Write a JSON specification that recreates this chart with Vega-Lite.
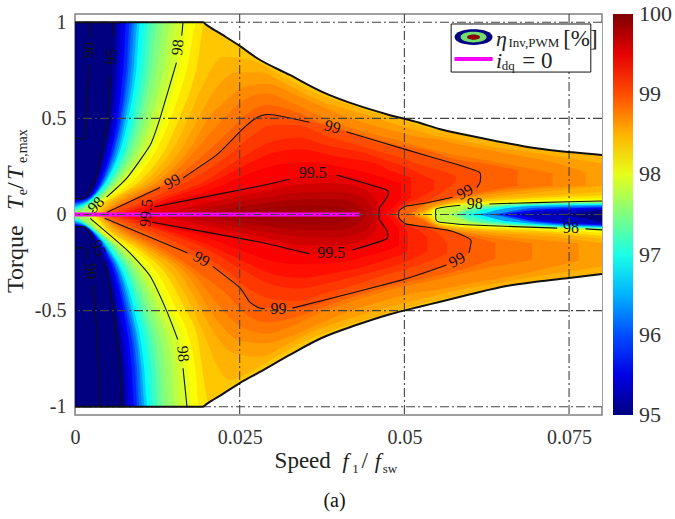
{"$schema":"https://vega.github.io/schema/vega-lite/v6.json","width":527,"height":401,"autosize":{"type":"none"},"padding":{"left":75,"top":14,"right":73,"bottom":104},"background":"white","config":{"view":{"stroke":"#808080","strokeWidth":1.5}},
"layer":[
{"data":{"values":[
{"k":"B","v":95,"x":0,"y":1,"z":-1},{"k":"B","v":95,"x":0.08,"y":1,"z":-1},
{"k":"t95.15","v":95.15,"x":0,"y":0.083,"z":0},{"k":"t95.15","v":95.15,"x":0.0017,"y":0.09,"z":0},{"k":"t95.15","v":95.15,"x":0.0034,"y":0.2,"z":0},{"k":"t95.15","v":95.15,"x":0.0045,"y":0.36,"z":0},{"k":"t95.15","v":95.15,"x":0.0053,"y":0.5,"z":0},{"k":"t95.15","v":95.15,"x":0.0058,"y":0.79,"z":0},{"k":"t95.15","v":95.15,"x":0.0062,"y":1,"z":0},{"k":"t95.15","v":95.15,"x":0.0175,"y":1,"z":0},
{"k":"b95.15","v":95.15,"x":0,"y":-0.063,"z":0},{"k":"b95.15","v":95.15,"x":0.0015,"y":-0.07,"z":0},{"k":"b95.15","v":95.15,"x":0.0037,"y":-0.185,"z":0},{"k":"b95.15","v":95.15,"x":0.0052,"y":-0.325,"z":0},{"k":"b95.15","v":95.15,"x":0.0061,"y":-0.5,"z":0},{"k":"b95.15","v":95.15,"x":0.0071,"y":-0.8,"z":0},{"k":"b95.15","v":95.15,"x":0.0075,"y":-1,"z":0},{"k":"b95.15","v":95.15,"x":0.0178,"y":-1,"z":0},
{"k":"t95.3","v":95.3,"x":0,"y":0.08,"z":0},{"k":"t95.3","v":95.3,"x":0.0018,"y":0.09,"z":0},{"k":"t95.3","v":95.3,"x":0.0036,"y":0.2,"z":0},{"k":"t95.3","v":95.3,"x":0.0048,"y":0.36,"z":0},{"k":"t95.3","v":95.3,"x":0.0056,"y":0.5,"z":0},{"k":"t95.3","v":95.3,"x":0.0062,"y":0.79,"z":0},{"k":"t95.3","v":95.3,"x":0.0065,"y":1,"z":0},{"k":"t95.3","v":95.3,"x":0.0175,"y":1,"z":0},
{"k":"b95.3","v":95.3,"x":0,"y":-0.06,"z":0},{"k":"b95.3","v":95.3,"x":0.0016,"y":-0.07,"z":0},{"k":"b95.3","v":95.3,"x":0.0039,"y":-0.185,"z":0},{"k":"b95.3","v":95.3,"x":0.0054,"y":-0.325,"z":0},{"k":"b95.3","v":95.3,"x":0.0064,"y":-0.5,"z":0},{"k":"b95.3","v":95.3,"x":0.0075,"y":-0.8,"z":0},{"k":"b95.3","v":95.3,"x":0.0078,"y":-1,"z":0},{"k":"b95.3","v":95.3,"x":0.0178,"y":-1,"z":0},
{"k":"rt95.3","v":95.3,"x":0.054,"y":0.12,"z":0},{"k":"rt95.3","v":95.3,"x":0.072,"y":0.12,"z":0},{"k":"rt95.3","v":95.3,"x":0.08,"y":0.12,"z":0.023},
{"k":"rb95.3","v":95.3,"x":0.054,"y":-0.12,"z":0},{"k":"rb95.3","v":95.3,"x":0.072,"y":-0.12,"z":0},{"k":"rb95.3","v":95.3,"x":0.08,"y":-0.12,"z":-0.04},
{"k":"t95.45","v":95.45,"x":0,"y":0.075,"z":0},{"k":"t95.45","v":95.45,"x":0.002,"y":0.09,"z":0},{"k":"t95.45","v":95.45,"x":0.0038,"y":0.2,"z":0},{"k":"t95.45","v":95.45,"x":0.0051,"y":0.36,"z":0},{"k":"t95.45","v":95.45,"x":0.0059,"y":0.5,"z":0},{"k":"t95.45","v":95.45,"x":0.0066,"y":0.79,"z":0},{"k":"t95.45","v":95.45,"x":0.007,"y":1,"z":0},{"k":"t95.45","v":95.45,"x":0.0175,"y":1,"z":0},
{"k":"b95.45","v":95.45,"x":0,"y":-0.058,"z":0},{"k":"b95.45","v":95.45,"x":0.0017,"y":-0.07,"z":0},{"k":"b95.45","v":95.45,"x":0.0041,"y":-0.185,"z":0},{"k":"b95.45","v":95.45,"x":0.0057,"y":-0.325,"z":0},{"k":"b95.45","v":95.45,"x":0.0067,"y":-0.5,"z":0},{"k":"b95.45","v":95.45,"x":0.0078,"y":-0.8,"z":0},{"k":"b95.45","v":95.45,"x":0.0082,"y":-1,"z":0},{"k":"b95.45","v":95.45,"x":0.0178,"y":-1,"z":0},
{"k":"t95.6","v":95.6,"x":0,"y":0.07,"z":0},{"k":"t95.6","v":95.6,"x":0.0021,"y":0.09,"z":0},{"k":"t95.6","v":95.6,"x":0.004,"y":0.2,"z":0},{"k":"t95.6","v":95.6,"x":0.0054,"y":0.36,"z":0},{"k":"t95.6","v":95.6,"x":0.0062,"y":0.5,"z":0},{"k":"t95.6","v":95.6,"x":0.007,"y":0.79,"z":0},{"k":"t95.6","v":95.6,"x":0.0074,"y":1,"z":0},{"k":"t95.6","v":95.6,"x":0.0175,"y":1,"z":0},
{"k":"b95.6","v":95.6,"x":0,"y":-0.055,"z":0},{"k":"b95.6","v":95.6,"x":0.0018,"y":-0.07,"z":0},{"k":"b95.6","v":95.6,"x":0.0042,"y":-0.185,"z":0},{"k":"b95.6","v":95.6,"x":0.006,"y":-0.325,"z":0},{"k":"b95.6","v":95.6,"x":0.007,"y":-0.5,"z":0},{"k":"b95.6","v":95.6,"x":0.0082,"y":-0.8,"z":0},{"k":"b95.6","v":95.6,"x":0.0086,"y":-1,"z":0},{"k":"b95.6","v":95.6,"x":0.0178,"y":-1,"z":0},
{"k":"rt95.6","v":95.6,"x":0.054,"y":0.12,"z":0},{"k":"rt95.6","v":95.6,"x":0.0665,"y":0.12,"z":0},{"k":"rt95.6","v":95.6,"x":0.07,"y":0.12,"z":0.015},{"k":"rt95.6","v":95.6,"x":0.08,"y":0.12,"z":0.03},
{"k":"rb95.6","v":95.6,"x":0.054,"y":-0.12,"z":0},{"k":"rb95.6","v":95.6,"x":0.0665,"y":-0.12,"z":0},{"k":"rb95.6","v":95.6,"x":0.07,"y":-0.12,"z":-0.025},{"k":"rb95.6","v":95.6,"x":0.08,"y":-0.12,"z":-0.05},
{"k":"t95.8","v":95.8,"x":0,"y":0.065,"z":0},{"k":"t95.8","v":95.8,"x":0.0022,"y":0.09,"z":0},{"k":"t95.8","v":95.8,"x":0.0042,"y":0.2,"z":0},{"k":"t95.8","v":95.8,"x":0.0057,"y":0.36,"z":0},{"k":"t95.8","v":95.8,"x":0.0065,"y":0.5,"z":0},{"k":"t95.8","v":95.8,"x":0.0074,"y":0.79,"z":0},{"k":"t95.8","v":95.8,"x":0.0078,"y":1,"z":0},{"k":"t95.8","v":95.8,"x":0.0175,"y":1,"z":0},
{"k":"b95.8","v":95.8,"x":0,"y":-0.052,"z":0},{"k":"b95.8","v":95.8,"x":0.0019,"y":-0.07,"z":0},{"k":"b95.8","v":95.8,"x":0.0044,"y":-0.185,"z":0},{"k":"b95.8","v":95.8,"x":0.0062,"y":-0.325,"z":0},{"k":"b95.8","v":95.8,"x":0.0074,"y":-0.5,"z":0},{"k":"b95.8","v":95.8,"x":0.0086,"y":-0.8,"z":0},{"k":"b95.8","v":95.8,"x":0.009,"y":-1,"z":0},{"k":"b95.8","v":95.8,"x":0.0178,"y":-1,"z":0},
{"k":"t96","v":96,"x":0,"y":0.06,"z":0},{"k":"t96","v":96,"x":0.0024,"y":0.09,"z":0},{"k":"t96","v":96,"x":0.0045,"y":0.2,"z":0},{"k":"t96","v":96,"x":0.006,"y":0.36,"z":0},{"k":"t96","v":96,"x":0.0069,"y":0.5,"z":0},{"k":"t96","v":96,"x":0.0079,"y":0.79,"z":0},{"k":"t96","v":96,"x":0.0083,"y":1,"z":0},{"k":"t96","v":96,"x":0.0175,"y":1,"z":0},
{"k":"b96","v":96,"x":0,"y":-0.05,"z":0},{"k":"b96","v":96,"x":0.002,"y":-0.07,"z":0},{"k":"b96","v":96,"x":0.0046,"y":-0.185,"z":0},{"k":"b96","v":96,"x":0.0065,"y":-0.325,"z":0},{"k":"b96","v":96,"x":0.0077,"y":-0.5,"z":0},{"k":"b96","v":96,"x":0.0091,"y":-0.8,"z":0},{"k":"b96","v":96,"x":0.0095,"y":-1,"z":0},{"k":"b96","v":96,"x":0.0178,"y":-1,"z":0},
{"k":"rt96","v":96,"x":0.054,"y":0.12,"z":0},{"k":"rt96","v":96,"x":0.0635,"y":0.12,"z":0},{"k":"rt96","v":96,"x":0.07,"y":0.12,"z":0.025},{"k":"rt96","v":96,"x":0.08,"y":0.12,"z":0.037},
{"k":"rb96","v":96,"x":0.054,"y":-0.12,"z":0},{"k":"rb96","v":96,"x":0.0635,"y":-0.12,"z":0},{"k":"rb96","v":96,"x":0.07,"y":-0.12,"z":-0.035},{"k":"rb96","v":96,"x":0.08,"y":-0.12,"z":-0.055},
{"k":"t96.2","v":96.2,"x":0,"y":0.055,"z":0},{"k":"t96.2","v":96.2,"x":0.0025,"y":0.09,"z":0},{"k":"t96.2","v":96.2,"x":0.0046,"y":0.2,"z":0},{"k":"t96.2","v":96.2,"x":0.0062,"y":0.36,"z":0},{"k":"t96.2","v":96.2,"x":0.0071,"y":0.5,"z":0},{"k":"t96.2","v":96.2,"x":0.0082,"y":0.79,"z":0},{"k":"t96.2","v":96.2,"x":0.0087,"y":1,"z":0},{"k":"t96.2","v":96.2,"x":0.0175,"y":1,"z":0},
{"k":"b96.2","v":96.2,"x":0,"y":-0.045,"z":0},{"k":"b96.2","v":96.2,"x":0.002,"y":-0.07,"z":0},{"k":"b96.2","v":96.2,"x":0.0047,"y":-0.185,"z":0},{"k":"b96.2","v":96.2,"x":0.0067,"y":-0.325,"z":0},{"k":"b96.2","v":96.2,"x":0.008,"y":-0.5,"z":0},{"k":"b96.2","v":96.2,"x":0.0094,"y":-0.8,"z":0},{"k":"b96.2","v":96.2,"x":0.0098,"y":-1,"z":0},{"k":"b96.2","v":96.2,"x":0.0178,"y":-1,"z":0},
{"k":"t96.4","v":96.4,"x":0,"y":0.05,"z":0},{"k":"t96.4","v":96.4,"x":0.0026,"y":0.09,"z":0},{"k":"t96.4","v":96.4,"x":0.0048,"y":0.2,"z":0},{"k":"t96.4","v":96.4,"x":0.0065,"y":0.36,"z":0},{"k":"t96.4","v":96.4,"x":0.0074,"y":0.5,"z":0},{"k":"t96.4","v":96.4,"x":0.0086,"y":0.79,"z":0},{"k":"t96.4","v":96.4,"x":0.0091,"y":1,"z":0},{"k":"t96.4","v":96.4,"x":0.0175,"y":1,"z":0},
{"k":"b96.4","v":96.4,"x":0,"y":-0.04,"z":0},{"k":"b96.4","v":96.4,"x":0.0021,"y":-0.07,"z":0},{"k":"b96.4","v":96.4,"x":0.0049,"y":-0.185,"z":0},{"k":"b96.4","v":96.4,"x":0.007,"y":-0.325,"z":0},{"k":"b96.4","v":96.4,"x":0.0083,"y":-0.5,"z":0},{"k":"b96.4","v":96.4,"x":0.0098,"y":-0.8,"z":0},{"k":"b96.4","v":96.4,"x":0.0102,"y":-1,"z":0},{"k":"b96.4","v":96.4,"x":0.0178,"y":-1,"z":0},
{"k":"rt96.4","v":96.4,"x":0.054,"y":0.12,"z":0},{"k":"rt96.4","v":96.4,"x":0.062,"y":0.12,"z":0},{"k":"rt96.4","v":96.4,"x":0.07,"y":0.12,"z":0.035},{"k":"rt96.4","v":96.4,"x":0.08,"y":0.12,"z":0.043},
{"k":"rb96.4","v":96.4,"x":0.054,"y":-0.12,"z":0},{"k":"rb96.4","v":96.4,"x":0.062,"y":-0.12,"z":0},{"k":"rb96.4","v":96.4,"x":0.07,"y":-0.12,"z":-0.042},{"k":"rb96.4","v":96.4,"x":0.08,"y":-0.12,"z":-0.06},
{"k":"t96.65","v":96.65,"x":0,"y":0.043,"z":0},{"k":"t96.65","v":96.65,"x":0.0027,"y":0.09,"z":0},{"k":"t96.65","v":96.65,"x":0.005,"y":0.2,"z":0},{"k":"t96.65","v":96.65,"x":0.0068,"y":0.36,"z":0},{"k":"t96.65","v":96.65,"x":0.0077,"y":0.5,"z":0},{"k":"t96.65","v":96.65,"x":0.009,"y":0.79,"z":0},{"k":"t96.65","v":96.65,"x":0.0095,"y":1,"z":0},{"k":"t96.65","v":96.65,"x":0.0175,"y":1,"z":0},
{"k":"b96.65","v":96.65,"x":0,"y":-0.035,"z":0},{"k":"b96.65","v":96.65,"x":0.0022,"y":-0.07,"z":0},{"k":"b96.65","v":96.65,"x":0.0051,"y":-0.185,"z":0},{"k":"b96.65","v":96.65,"x":0.0072,"y":-0.325,"z":0},{"k":"b96.65","v":96.65,"x":0.0086,"y":-0.5,"z":0},{"k":"b96.65","v":96.65,"x":0.0101,"y":-0.8,"z":0},{"k":"b96.65","v":96.65,"x":0.0106,"y":-1,"z":0},{"k":"b96.65","v":96.65,"x":0.0178,"y":-1,"z":0},
{"k":"t96.9","v":96.9,"x":0,"y":0.035,"z":0},{"k":"t96.9","v":96.9,"x":0.0028,"y":0.09,"z":0},{"k":"t96.9","v":96.9,"x":0.0052,"y":0.2,"z":0},{"k":"t96.9","v":96.9,"x":0.0071,"y":0.36,"z":0},{"k":"t96.9","v":96.9,"x":0.0081,"y":0.5,"z":0},{"k":"t96.9","v":96.9,"x":0.0094,"y":0.79,"z":0},{"k":"t96.9","v":96.9,"x":0.0099,"y":1,"z":0},{"k":"t96.9","v":96.9,"x":0.0175,"y":1,"z":0},
{"k":"b96.9","v":96.9,"x":0,"y":-0.03,"z":0},{"k":"b96.9","v":96.9,"x":0.0023,"y":-0.07,"z":0},{"k":"b96.9","v":96.9,"x":0.0053,"y":-0.185,"z":0},{"k":"b96.9","v":96.9,"x":0.0075,"y":-0.325,"z":0},{"k":"b96.9","v":96.9,"x":0.009,"y":-0.5,"z":0},{"k":"b96.9","v":96.9,"x":0.0105,"y":-0.8,"z":0},{"k":"b96.9","v":96.9,"x":0.011,"y":-1,"z":0},{"k":"b96.9","v":96.9,"x":0.0178,"y":-1,"z":0},
{"k":"rt96.9","v":96.9,"x":0.054,"y":0.12,"z":0},{"k":"rt96.9","v":96.9,"x":0.0605,"y":0.12,"z":0},{"k":"rt96.9","v":96.9,"x":0.065,"y":0.12,"z":0.03},{"k":"rt96.9","v":96.9,"x":0.07,"y":0.12,"z":0.045},{"k":"rt96.9","v":96.9,"x":0.08,"y":0.12,"z":0.05},
{"k":"rb96.9","v":96.9,"x":0.054,"y":-0.12,"z":0},{"k":"rb96.9","v":96.9,"x":0.0605,"y":-0.12,"z":0},{"k":"rb96.9","v":96.9,"x":0.065,"y":-0.12,"z":-0.032},{"k":"rb96.9","v":96.9,"x":0.07,"y":-0.12,"z":-0.05},{"k":"rb96.9","v":96.9,"x":0.08,"y":-0.12,"z":-0.065},
{"k":"t97.05","v":97.05,"x":0,"y":0.03,"z":0},{"k":"t97.05","v":97.05,"x":0.003,"y":0.09,"z":0},{"k":"t97.05","v":97.05,"x":0.0055,"y":0.2,"z":0},{"k":"t97.05","v":97.05,"x":0.0075,"y":0.36,"z":0},{"k":"t97.05","v":97.05,"x":0.0085,"y":0.5,"z":0},{"k":"t97.05","v":97.05,"x":0.0099,"y":0.79,"z":0},{"k":"t97.05","v":97.05,"x":0.0105,"y":1,"z":0},{"k":"t97.05","v":97.05,"x":0.0175,"y":1,"z":0},
{"k":"b97.05","v":97.05,"x":0,"y":-0.025,"z":0},{"k":"b97.05","v":97.05,"x":0.0024,"y":-0.07,"z":0},{"k":"b97.05","v":97.05,"x":0.0055,"y":-0.185,"z":0},{"k":"b97.05","v":97.05,"x":0.0078,"y":-0.325,"z":0},{"k":"b97.05","v":97.05,"x":0.0094,"y":-0.5,"z":0},{"k":"b97.05","v":97.05,"x":0.011,"y":-0.8,"z":0},{"k":"b97.05","v":97.05,"x":0.0115,"y":-1,"z":0},{"k":"b97.05","v":97.05,"x":0.0178,"y":-1,"z":0},
{"k":"t97.2","v":97.2,"x":0,"y":0.025,"z":0},{"k":"t97.2","v":97.2,"x":0.0032,"y":0.09,"z":0},{"k":"t97.2","v":97.2,"x":0.0058,"y":0.2,"z":0},{"k":"t97.2","v":97.2,"x":0.0079,"y":0.36,"z":0},{"k":"t97.2","v":97.2,"x":0.009,"y":0.5,"z":0},{"k":"t97.2","v":97.2,"x":0.0105,"y":0.79,"z":0},{"k":"t97.2","v":97.2,"x":0.0111,"y":1,"z":0},{"k":"t97.2","v":97.2,"x":0.0175,"y":1,"z":0},
{"k":"b97.2","v":97.2,"x":0,"y":-0.02,"z":0},{"k":"b97.2","v":97.2,"x":0.0025,"y":-0.07,"z":0},{"k":"b97.2","v":97.2,"x":0.0058,"y":-0.185,"z":0},{"k":"b97.2","v":97.2,"x":0.0082,"y":-0.325,"z":0},{"k":"b97.2","v":97.2,"x":0.0098,"y":-0.5,"z":0},{"k":"b97.2","v":97.2,"x":0.0116,"y":-0.8,"z":0},{"k":"b97.2","v":97.2,"x":0.012,"y":-1,"z":0},{"k":"b97.2","v":97.2,"x":0.0178,"y":-1,"z":0},
{"k":"rt97.2","v":97.2,"x":0.054,"y":0.12,"z":0},{"k":"rt97.2","v":97.2,"x":0.0592,"y":0.12,"z":0},{"k":"rt97.2","v":97.2,"x":0.0625,"y":0.12,"z":0.028},{"k":"rt97.2","v":97.2,"x":0.07,"y":0.12,"z":0.05},{"k":"rt97.2","v":97.2,"x":0.08,"y":0.12,"z":0.055},
{"k":"rb97.2","v":97.2,"x":0.054,"y":-0.12,"z":0},{"k":"rb97.2","v":97.2,"x":0.0592,"y":-0.12,"z":0},{"k":"rb97.2","v":97.2,"x":0.0625,"y":-0.12,"z":-0.03},{"k":"rb97.2","v":97.2,"x":0.07,"y":-0.12,"z":-0.055},{"k":"rb97.2","v":97.2,"x":0.08,"y":-0.12,"z":-0.068},
{"k":"t97.35","v":97.35,"x":0,"y":0.02,"z":0},{"k":"t97.35","v":97.35,"x":0.0034,"y":0.09,"z":0},{"k":"t97.35","v":97.35,"x":0.0061,"y":0.2,"z":0},{"k":"t97.35","v":97.35,"x":0.0083,"y":0.36,"z":0},{"k":"t97.35","v":97.35,"x":0.0095,"y":0.5,"z":0},{"k":"t97.35","v":97.35,"x":0.0111,"y":0.79,"z":0},{"k":"t97.35","v":97.35,"x":0.0118,"y":1,"z":0},{"k":"t97.35","v":97.35,"x":0.0175,"y":1,"z":0},
{"k":"b97.35","v":97.35,"x":0,"y":-0.016,"z":0},{"k":"b97.35","v":97.35,"x":0.0026,"y":-0.07,"z":0},{"k":"b97.35","v":97.35,"x":0.006,"y":-0.185,"z":0},{"k":"b97.35","v":97.35,"x":0.0086,"y":-0.325,"z":0},{"k":"b97.35","v":97.35,"x":0.0103,"y":-0.5,"z":0},{"k":"b97.35","v":97.35,"x":0.0122,"y":-0.8,"z":0},{"k":"b97.35","v":97.35,"x":0.0126,"y":-1,"z":0},{"k":"b97.35","v":97.35,"x":0.0178,"y":-1,"z":0},
{"k":"t97.5","v":97.5,"x":0,"y":0.015,"z":0},{"k":"t97.5","v":97.5,"x":0.0036,"y":0.09,"z":0},{"k":"t97.5","v":97.5,"x":0.0064,"y":0.2,"z":0},{"k":"t97.5","v":97.5,"x":0.0088,"y":0.36,"z":0},{"k":"t97.5","v":97.5,"x":0.01,"y":0.5,"z":0},{"k":"t97.5","v":97.5,"x":0.0117,"y":0.79,"z":0},{"k":"t97.5","v":97.5,"x":0.0125,"y":1,"z":0},{"k":"t97.5","v":97.5,"x":0.0175,"y":1,"z":0},
{"k":"b97.5","v":97.5,"x":0,"y":-0.012,"z":0},{"k":"b97.5","v":97.5,"x":0.0028,"y":-0.07,"z":0},{"k":"b97.5","v":97.5,"x":0.0063,"y":-0.185,"z":0},{"k":"b97.5","v":97.5,"x":0.009,"y":-0.325,"z":0},{"k":"b97.5","v":97.5,"x":0.0109,"y":-0.5,"z":0},{"k":"b97.5","v":97.5,"x":0.0128,"y":-0.8,"z":0},{"k":"b97.5","v":97.5,"x":0.0133,"y":-1,"z":0},{"k":"b97.5","v":97.5,"x":0.0178,"y":-1,"z":0},
{"k":"rt97.5","v":97.5,"x":0.054,"y":0.12,"z":0},{"k":"rt97.5","v":97.5,"x":0.058,"y":0.12,"z":0},{"k":"rt97.5","v":97.5,"x":0.06,"y":0.12,"z":0.025},{"k":"rt97.5","v":97.5,"x":0.07,"y":0.12,"z":0.055},{"k":"rt97.5","v":97.5,"x":0.08,"y":0.12,"z":0.06},
{"k":"rb97.5","v":97.5,"x":0.054,"y":-0.12,"z":0},{"k":"rb97.5","v":97.5,"x":0.058,"y":-0.12,"z":0},{"k":"rb97.5","v":97.5,"x":0.06,"y":-0.12,"z":-0.03},{"k":"rb97.5","v":97.5,"x":0.07,"y":-0.12,"z":-0.06},{"k":"rb97.5","v":97.5,"x":0.08,"y":-0.12,"z":-0.072},
{"k":"t97.65","v":97.65,"x":0,"y":0.008,"z":0},{"k":"t97.65","v":97.65,"x":0.0039,"y":0.09,"z":0},{"k":"t97.65","v":97.65,"x":0.0068,"y":0.2,"z":0},{"k":"t97.65","v":97.65,"x":0.0094,"y":0.36,"z":0},{"k":"t97.65","v":97.65,"x":0.0107,"y":0.5,"z":0},{"k":"t97.65","v":97.65,"x":0.0126,"y":0.79,"z":0},{"k":"t97.65","v":97.65,"x":0.0135,"y":1,"z":0},{"k":"t97.65","v":97.65,"x":0.0175,"y":1,"z":0},
{"k":"b97.65","v":97.65,"x":0,"y":-0.006,"z":0},{"k":"b97.65","v":97.65,"x":0.0029,"y":-0.07,"z":0},{"k":"b97.65","v":97.65,"x":0.0067,"y":-0.185,"z":0},{"k":"b97.65","v":97.65,"x":0.0096,"y":-0.325,"z":0},{"k":"b97.65","v":97.65,"x":0.0116,"y":-0.5,"z":0},{"k":"b97.65","v":97.65,"x":0.0137,"y":-0.8,"z":0},{"k":"b97.65","v":97.65,"x":0.0142,"y":-1,"z":0},{"k":"b97.65","v":97.65,"x":0.0178,"y":-1,"z":0},
{"k":"t97.8","v":97.8,"x":0.0015,"y":0,"z":0},{"k":"t97.8","v":97.8,"x":0.0042,"y":0.09,"z":0},{"k":"t97.8","v":97.8,"x":0.0073,"y":0.2,"z":0},{"k":"t97.8","v":97.8,"x":0.0101,"y":0.36,"z":0},{"k":"t97.8","v":97.8,"x":0.0115,"y":0.5,"z":0},{"k":"t97.8","v":97.8,"x":0.0136,"y":0.79,"z":0},{"k":"t97.8","v":97.8,"x":0.0145,"y":1,"z":0},{"k":"t97.8","v":97.8,"x":0.0175,"y":1,"z":0},
{"k":"b97.8","v":97.8,"x":0.0015,"y":0,"z":0},{"k":"b97.8","v":97.8,"x":0.0031,"y":-0.07,"z":0},{"k":"b97.8","v":97.8,"x":0.0071,"y":-0.185,"z":0},{"k":"b97.8","v":97.8,"x":0.0102,"y":-0.325,"z":0},{"k":"b97.8","v":97.8,"x":0.0124,"y":-0.5,"z":0},{"k":"b97.8","v":97.8,"x":0.0147,"y":-0.8,"z":0},{"k":"b97.8","v":97.8,"x":0.0152,"y":-1,"z":0},{"k":"b97.8","v":97.8,"x":0.0178,"y":-1,"z":0},
{"k":"rt97.8","v":97.8,"x":0.054,"y":0.12,"z":0},{"k":"rt97.8","v":97.8,"x":0.0565,"y":0.12,"z":0},{"k":"rt97.8","v":97.8,"x":0.06,"y":0.12,"z":0.035},{"k":"rt97.8","v":97.8,"x":0.07,"y":0.12,"z":0.06},{"k":"rt97.8","v":97.8,"x":0.08,"y":0.12,"z":0.065},
{"k":"rb97.8","v":97.8,"x":0.054,"y":-0.12,"z":0},{"k":"rb97.8","v":97.8,"x":0.0565,"y":-0.12,"z":0},{"k":"rb97.8","v":97.8,"x":0.06,"y":-0.12,"z":-0.04},{"k":"rb97.8","v":97.8,"x":0.07,"y":-0.12,"z":-0.064},{"k":"rb97.8","v":97.8,"x":0.08,"y":-0.12,"z":-0.076},
{"k":"t97.9","v":97.9,"x":0.002,"y":0,"z":0},{"k":"t97.9","v":97.9,"x":0.0045,"y":0.09,"z":0},{"k":"t97.9","v":97.9,"x":0.0076,"y":0.2,"z":0},{"k":"t97.9","v":97.9,"x":0.0107,"y":0.36,"z":0},{"k":"t97.9","v":97.9,"x":0.0122,"y":0.5,"z":0},{"k":"t97.9","v":97.9,"x":0.0145,"y":0.79,"z":0},{"k":"t97.9","v":97.9,"x":0.0154,"y":1,"z":0},{"k":"t97.9","v":97.9,"x":0.0175,"y":1,"z":0},
{"k":"b97.9","v":97.9,"x":0.002,"y":0,"z":0},{"k":"b97.9","v":97.9,"x":0.0033,"y":-0.07,"z":0},{"k":"b97.9","v":97.9,"x":0.0075,"y":-0.185,"z":0},{"k":"b97.9","v":97.9,"x":0.0108,"y":-0.325,"z":0},{"k":"b97.9","v":97.9,"x":0.0131,"y":-0.5,"z":0},{"k":"b97.9","v":97.9,"x":0.0155,"y":-0.8,"z":0},{"k":"b97.9","v":97.9,"x":0.0161,"y":-1,"z":0},{"k":"b97.9","v":97.9,"x":0.0178,"y":-1,"z":0},
{"k":"t98","v":98,"x":0.0026,"y":0,"z":0},{"k":"t98","v":98,"x":0.0033,"y":0.05,"z":0},{"k":"t98","v":98,"x":0.0048,"y":0.09,"z":0},{"k":"t98","v":98,"x":0.0079,"y":0.19,"z":0},{"k":"t98","v":98,"x":0.0114,"y":0.36,"z":0},{"k":"t98","v":98,"x":0.0129,"y":0.5,"z":0},{"k":"t98","v":98,"x":0.0154,"y":0.79,"z":0},{"k":"t98","v":98,"x":0.0164,"y":1,"z":0},{"k":"t98","v":98,"x":0.0547,"y":1,"z":0},{"k":"t98","v":98,"x":0.0548,"y":1,"z":0.028},{"k":"t98","v":98,"x":0.0564,"y":1,"z":0.04},{"k":"t98","v":98,"x":0.0629,"y":1,"z":0.055},{"k":"t98","v":98,"x":0.07,"y":1,"z":0.062},{"k":"t98","v":98,"x":0.08,"y":1,"z":0.07},
{"k":"b98","v":98,"x":0.0023,"y":0,"z":0},{"k":"b98","v":98,"x":0.0035,"y":-0.065,"z":0},{"k":"b98","v":98,"x":0.0079,"y":-0.185,"z":0},{"k":"b98","v":98,"x":0.0114,"y":-0.32,"z":0},{"k":"b98","v":98,"x":0.0139,"y":-0.5,"z":0},{"k":"b98","v":98,"x":0.0156,"y":-0.64,"z":0},{"k":"b98","v":98,"x":0.0164,"y":-0.81,"z":0},{"k":"b98","v":98,"x":0.017,"y":-1,"z":0},{"k":"b98","v":98,"x":0.0547,"y":-1,"z":0},{"k":"b98","v":98,"x":0.0548,"y":-1,"z":-0.028},{"k":"b98","v":98,"x":0.0553,"y":-1,"z":-0.04},{"k":"b98","v":98,"x":0.0603,"y":-1,"z":-0.055},{"k":"b98","v":98,"x":0.0724,"y":-1,"z":-0.07},{"k":"b98","v":98,"x":0.08,"y":-1,"z":-0.08},
{"k":"t98.1","v":98.1,"x":0.0028,"y":0,"z":0},{"k":"t98.1","v":98.1,"x":0.0034,"y":0.05,"z":0},{"k":"t98.1","v":98.1,"x":0.005,"y":0.09,"z":0},{"k":"t98.1","v":98.1,"x":0.0083,"y":0.19,"z":0},{"k":"t98.1","v":98.1,"x":0.012,"y":0.36,"z":0},{"k":"t98.1","v":98.1,"x":0.0135,"y":0.5,"z":0},{"k":"t98.1","v":98.1,"x":0.016,"y":0.79,"z":0},{"k":"t98.1","v":98.1,"x":0.0172,"y":1,"z":0},{"k":"t98.1","v":98.1,"x":0.0541,"y":1,"z":0},{"k":"t98.1","v":98.1,"x":0.0548,"y":1,"z":0.03},{"k":"t98.1","v":98.1,"x":0.0564,"y":1,"z":0.043},{"k":"t98.1","v":98.1,"x":0.0629,"y":1,"z":0.058},{"k":"t98.1","v":98.1,"x":0.08,"y":1,"z":0.073},
{"k":"b98.1","v":98.1,"x":0.0026,"y":0,"z":0},{"k":"b98.1","v":98.1,"x":0.0038,"y":-0.065,"z":0},{"k":"b98.1","v":98.1,"x":0.0082,"y":-0.185,"z":0},{"k":"b98.1","v":98.1,"x":0.012,"y":-0.32,"z":0},{"k":"b98.1","v":98.1,"x":0.0145,"y":-0.5,"z":0},{"k":"b98.1","v":98.1,"x":0.0163,"y":-0.64,"z":0},{"k":"b98.1","v":98.1,"x":0.0172,"y":-0.81,"z":0},{"k":"b98.1","v":98.1,"x":0.0178,"y":-1,"z":0},{"k":"b98.1","v":98.1,"x":0.0541,"y":-1,"z":0},{"k":"b98.1","v":98.1,"x":0.0553,"y":-1,"z":-0.042},{"k":"b98.1","v":98.1,"x":0.0603,"y":-1,"z":-0.058},{"k":"b98.1","v":98.1,"x":0.0724,"y":-1,"z":-0.074},{"k":"b98.1","v":98.1,"x":0.08,"y":-1,"z":-0.084},
{"k":"t98.25","v":98.25,"x":0.003,"y":0,"z":0},{"k":"t98.25","v":98.25,"x":0.0037,"y":0.05,"z":0},{"k":"t98.25","v":98.25,"x":0.0054,"y":0.09,"z":0},{"k":"t98.25","v":98.25,"x":0.0092,"y":0.19,"z":0},{"k":"t98.25","v":98.25,"x":0.0127,"y":0.36,"z":0},{"k":"t98.25","v":98.25,"x":0.0145,"y":0.5,"z":0},{"k":"t98.25","v":98.25,"x":0.0172,"y":0.79,"z":0},{"k":"t98.25","v":98.25,"x":0.0185,"y":1,"z":0},{"k":"t98.25","v":98.25,"x":0.0535,"y":1,"z":0},{"k":"t98.25","v":98.25,"x":0.0548,"y":1,"z":0.032},{"k":"t98.25","v":98.25,"x":0.0564,"y":1,"z":0.047},{"k":"t98.25","v":98.25,"x":0.0629,"y":1,"z":0.063},{"k":"t98.25","v":98.25,"x":0.08,"y":1,"z":0.085},
{"k":"b98.25","v":98.25,"x":0.0029,"y":0,"z":0},{"k":"b98.25","v":98.25,"x":0.0042,"y":-0.065,"z":0},{"k":"b98.25","v":98.25,"x":0.0089,"y":-0.185,"z":0},{"k":"b98.25","v":98.25,"x":0.0128,"y":-0.32,"z":0},{"k":"b98.25","v":98.25,"x":0.0155,"y":-0.5,"z":0},{"k":"b98.25","v":98.25,"x":0.0173,"y":-0.64,"z":0},{"k":"b98.25","v":98.25,"x":0.0183,"y":-0.81,"z":0},{"k":"b98.25","v":98.25,"x":0.0188,"y":-1,"z":0},{"k":"b98.25","v":98.25,"x":0.054,"y":-1,"z":0},{"k":"b98.25","v":98.25,"x":0.0553,"y":-1,"z":-0.045},{"k":"b98.25","v":98.25,"x":0.0603,"y":-1,"z":-0.064},{"k":"b98.25","v":98.25,"x":0.0724,"y":-1,"z":-0.08},{"k":"b98.25","v":98.25,"x":0.08,"y":-1,"z":-0.095},
{"k":"t98.4","v":98.4,"x":0.0033,"y":0,"z":0},{"k":"t98.4","v":98.4,"x":0.004,"y":0.05,"z":0},{"k":"t98.4","v":98.4,"x":0.006,"y":0.09,"z":0},{"k":"t98.4","v":98.4,"x":0.0103,"y":0.19,"z":0},{"k":"t98.4","v":98.4,"x":0.014,"y":0.36,"z":0},{"k":"t98.4","v":98.4,"x":0.0158,"y":0.5,"z":0},{"k":"t98.4","v":98.4,"x":0.0186,"y":0.79,"z":0},{"k":"t98.4","v":98.4,"x":0.0197,"y":1,"z":0},{"k":"t98.4","v":98.4,"x":0.0525,"y":1,"z":0},{"k":"t98.4","v":98.4,"x":0.0548,"y":1,"z":0.036},{"k":"t98.4","v":98.4,"x":0.0564,"y":1,"z":0.05},{"k":"t98.4","v":98.4,"x":0.0629,"y":1,"z":0.07},{"k":"t98.4","v":98.4,"x":0.08,"y":1,"z":0.1},
{"k":"b98.4","v":98.4,"x":0.0031,"y":0,"z":0},{"k":"b98.4","v":98.4,"x":0.0046,"y":-0.065,"z":0},{"k":"b98.4","v":98.4,"x":0.0098,"y":-0.185,"z":0},{"k":"b98.4","v":98.4,"x":0.014,"y":-0.32,"z":0},{"k":"b98.4","v":98.4,"x":0.0168,"y":-0.5,"z":0},{"k":"b98.4","v":98.4,"x":0.0186,"y":-0.64,"z":0},{"k":"b98.4","v":98.4,"x":0.0192,"y":-0.78,"z":0},{"k":"b98.4","v":98.4,"x":0.0205,"y":-1,"z":0},{"k":"b98.4","v":98.4,"x":0.053,"y":-1,"z":0},{"k":"b98.4","v":98.4,"x":0.0553,"y":-1,"z":-0.05},{"k":"b98.4","v":98.4,"x":0.0603,"y":-1,"z":-0.07},{"k":"b98.4","v":98.4,"x":0.0724,"y":-1,"z":-0.09},{"k":"b98.4","v":98.4,"x":0.08,"y":-1,"z":-0.11},
{"k":"t98.5","v":98.5,"x":0.0036,"y":0,"z":0},{"k":"t98.5","v":98.5,"x":0.0045,"y":0.04,"z":0},{"k":"t98.5","v":98.5,"x":0.0065,"y":0.09,"z":0},{"k":"t98.5","v":98.5,"x":0.0112,"y":0.19,"z":0},{"k":"t98.5","v":98.5,"x":0.0152,"y":0.36,"z":0},{"k":"t98.5","v":98.5,"x":0.0172,"y":0.5,"z":0},{"k":"t98.5","v":98.5,"x":0.0198,"y":0.7,"z":0},{"k":"t98.5","v":98.5,"x":0.0225,"y":0.82,"z":0},{"k":"t98.5","v":98.5,"x":0.027,"y":0.8,"z":0},{"k":"t98.5","v":98.5,"x":0.032,"y":0.71,"z":0},{"k":"t98.5","v":98.5,"x":0.036,"y":0.64,"z":0},{"k":"t98.5","v":98.5,"x":0.04,"y":0.59,"z":0},{"k":"t98.5","v":98.5,"x":0.045,"y":0.535,"z":0},{"k":"t98.5","v":98.5,"x":0.05,"y":0.485,"z":0},{"k":"t98.5","v":98.5,"x":0.052,"y":0.465,"z":0},{"k":"t98.5","v":98.5,"x":0.0548,"y":0.44,"z":0.04},{"k":"t98.5","v":98.5,"x":0.0564,"y":0.43,"z":0.054},{"k":"t98.5","v":98.5,"x":0.0629,"y":0.38,"z":0.08},{"k":"t98.5","v":98.5,"x":0.075,"y":0.32,"z":0.105},{"k":"t98.5","v":98.5,"x":0.08,"y":0.305,"z":0.12},
{"k":"b98.5","v":98.5,"x":0.0034,"y":0,"z":0},{"k":"b98.5","v":98.5,"x":0.005,"y":-0.065,"z":0},{"k":"b98.5","v":98.5,"x":0.0105,"y":-0.185,"z":0},{"k":"b98.5","v":98.5,"x":0.015,"y":-0.32,"z":0},{"k":"b98.5","v":98.5,"x":0.018,"y":-0.5,"z":0},{"k":"b98.5","v":98.5,"x":0.0198,"y":-0.64,"z":0},{"k":"b98.5","v":98.5,"x":0.0215,"y":-0.78,"z":0},{"k":"b98.5","v":98.5,"x":0.0235,"y":-0.86,"z":0},{"k":"b98.5","v":98.5,"x":0.0265,"y":-0.82,"z":0},{"k":"b98.5","v":98.5,"x":0.03,"y":-0.75,"z":0},{"k":"b98.5","v":98.5,"x":0.036,"y":-0.64,"z":0},{"k":"b98.5","v":98.5,"x":0.04,"y":-0.59,"z":0},{"k":"b98.5","v":98.5,"x":0.05,"y":-0.49,"z":0},{"k":"b98.5","v":98.5,"x":0.0525,"y":-0.465,"z":0},{"k":"b98.5","v":98.5,"x":0.0553,"y":-0.445,"z":-0.055},{"k":"b98.5","v":98.5,"x":0.0603,"y":-0.405,"z":-0.077},{"k":"b98.5","v":98.5,"x":0.0724,"y":-0.335,"z":-0.1},{"k":"b98.5","v":98.5,"x":0.08,"y":-0.305,"z":-0.125},
{"k":"t98.6","v":98.6,"x":0.0038,"y":0,"z":0},{"k":"t98.6","v":98.6,"x":0.005,"y":0.04,"z":0},{"k":"t98.6","v":98.6,"x":0.0072,"y":0.09,"z":0},{"k":"t98.6","v":98.6,"x":0.0122,"y":0.19,"z":0},{"k":"t98.6","v":98.6,"x":0.0165,"y":0.36,"z":0},{"k":"t98.6","v":98.6,"x":0.0187,"y":0.5,"z":0},{"k":"t98.6","v":98.6,"x":0.0215,"y":0.66,"z":0},{"k":"t98.6","v":98.6,"x":0.0245,"y":0.74,"z":0},{"k":"t98.6","v":98.6,"x":0.028,"y":0.74,"z":0},{"k":"t98.6","v":98.6,"x":0.032,"y":0.68,"z":0},{"k":"t98.6","v":98.6,"x":0.036,"y":0.61,"z":0},{"k":"t98.6","v":98.6,"x":0.04,"y":0.56,"z":0},{"k":"t98.6","v":98.6,"x":0.045,"y":0.51,"z":0},{"k":"t98.6","v":98.6,"x":0.05,"y":0.455,"z":0},{"k":"t98.6","v":98.6,"x":0.0515,"y":0.44,"z":0},{"k":"t98.6","v":98.6,"x":0.0548,"y":0.41,"z":0.045},{"k":"t98.6","v":98.6,"x":0.0564,"y":0.4,"z":0.06},{"k":"t98.6","v":98.6,"x":0.0629,"y":0.355,"z":0.09},{"k":"t98.6","v":98.6,"x":0.07,"y":0.32,"z":0.115},{"k":"t98.6","v":98.6,"x":0.08,"y":0.265,"z":0.15},
{"k":"b98.6","v":98.6,"x":0.0036,"y":0,"z":0},{"k":"b98.6","v":98.6,"x":0.0055,"y":-0.065,"z":0},{"k":"b98.6","v":98.6,"x":0.0113,"y":-0.185,"z":0},{"k":"b98.6","v":98.6,"x":0.0162,"y":-0.32,"z":0},{"k":"b98.6","v":98.6,"x":0.0192,"y":-0.5,"z":0},{"k":"b98.6","v":98.6,"x":0.0212,"y":-0.62,"z":0},{"k":"b98.6","v":98.6,"x":0.024,"y":-0.72,"z":0},{"k":"b98.6","v":98.6,"x":0.028,"y":-0.74,"z":0},{"k":"b98.6","v":98.6,"x":0.032,"y":-0.68,"z":0},{"k":"b98.6","v":98.6,"x":0.036,"y":-0.61,"z":0},{"k":"b98.6","v":98.6,"x":0.04,"y":-0.56,"z":0},{"k":"b98.6","v":98.6,"x":0.05,"y":-0.46,"z":0},{"k":"b98.6","v":98.6,"x":0.052,"y":-0.445,"z":0},{"k":"b98.6","v":98.6,"x":0.0553,"y":-0.415,"z":-0.06},{"k":"b98.6","v":98.6,"x":0.0603,"y":-0.38,"z":-0.085},{"k":"b98.6","v":98.6,"x":0.0724,"y":-0.31,"z":-0.115},{"k":"b98.6","v":98.6,"x":0.08,"y":-0.27,"z":-0.15},
{"k":"t98.7","v":98.7,"x":0.004,"y":0,"z":0},{"k":"t98.7","v":98.7,"x":0.0055,"y":0.04,"z":0},{"k":"t98.7","v":98.7,"x":0.008,"y":0.09,"z":0},{"k":"t98.7","v":98.7,"x":0.0132,"y":0.19,"z":0},{"k":"t98.7","v":98.7,"x":0.0178,"y":0.36,"z":0},{"k":"t98.7","v":98.7,"x":0.0202,"y":0.5,"z":0},{"k":"t98.7","v":98.7,"x":0.0225,"y":0.58,"z":0},{"k":"t98.7","v":98.7,"x":0.0255,"y":0.66,"z":0},{"k":"t98.7","v":98.7,"x":0.029,"y":0.68,"z":0},{"k":"t98.7","v":98.7,"x":0.033,"y":0.63,"z":0},{"k":"t98.7","v":98.7,"x":0.037,"y":0.57,"z":0},{"k":"t98.7","v":98.7,"x":0.042,"y":0.5,"z":0},{"k":"t98.7","v":98.7,"x":0.05,"y":0.42,"z":0},{"k":"t98.7","v":98.7,"x":0.051,"y":0.41,"z":0},{"k":"t98.7","v":98.7,"x":0.0553,"y":0.39,"z":0.06},{"k":"t98.7","v":98.7,"x":0.0564,"y":0.38,"z":0.068},{"k":"t98.7","v":98.7,"x":0.0629,"y":0.335,"z":0.105},{"k":"t98.7","v":98.7,"x":0.0727,"y":0.27,"z":0.14},{"k":"t98.7","v":98.7,"x":0.0775,"y":0.22,"z":0.15},
{"k":"b98.7","v":98.7,"x":0.0038,"y":0,"z":0},{"k":"b98.7","v":98.7,"x":0.006,"y":-0.065,"z":0},{"k":"b98.7","v":98.7,"x":0.012,"y":-0.185,"z":0},{"k":"b98.7","v":98.7,"x":0.0172,"y":-0.32,"z":0},{"k":"b98.7","v":98.7,"x":0.0205,"y":-0.5,"z":0},{"k":"b98.7","v":98.7,"x":0.0225,"y":-0.59,"z":0},{"k":"b98.7","v":98.7,"x":0.0255,"y":-0.66,"z":0},{"k":"b98.7","v":98.7,"x":0.029,"y":-0.67,"z":0},{"k":"b98.7","v":98.7,"x":0.033,"y":-0.63,"z":0},{"k":"b98.7","v":98.7,"x":0.037,"y":-0.57,"z":0},{"k":"b98.7","v":98.7,"x":0.042,"y":-0.5,"z":0},{"k":"b98.7","v":98.7,"x":0.05,"y":-0.42,"z":0},{"k":"b98.7","v":98.7,"x":0.0512,"y":-0.41,"z":0},{"k":"b98.7","v":98.7,"x":0.0553,"y":-0.39,"z":-0.065},{"k":"b98.7","v":98.7,"x":0.0603,"y":-0.355,"z":-0.095},{"k":"b98.7","v":98.7,"x":0.0655,"y":-0.325,"z":-0.115},{"k":"b98.7","v":98.7,"x":0.0764,"y":-0.24,"z":-0.15},
{"k":"t98.8","v":98.8,"x":0.0042,"y":0,"z":0},{"k":"t98.8","v":98.8,"x":0.006,"y":0.04,"z":0},{"k":"t98.8","v":98.8,"x":0.0088,"y":0.09,"z":0},{"k":"t98.8","v":98.8,"x":0.0142,"y":0.19,"z":0},{"k":"t98.8","v":98.8,"x":0.019,"y":0.36,"z":0},{"k":"t98.8","v":98.8,"x":0.0215,"y":0.46,"z":0},{"k":"t98.8","v":98.8,"x":0.025,"y":0.58,"z":0},{"k":"t98.8","v":98.8,"x":0.029,"y":0.63,"z":0},{"k":"t98.8","v":98.8,"x":0.033,"y":0.58,"z":0},{"k":"t98.8","v":98.8,"x":0.038,"y":0.5,"z":0},{"k":"t98.8","v":98.8,"x":0.044,"y":0.43,"z":0},{"k":"t98.8","v":98.8,"x":0.05,"y":0.375,"z":0},{"k":"t98.8","v":98.8,"x":0.0505,"y":0.37,"z":0},{"k":"t98.8","v":98.8,"x":0.0533,"y":0.345,"z":0.052},{"k":"t98.8","v":98.8,"x":0.0568,"y":0.315,"z":0.075},{"k":"t98.8","v":98.8,"x":0.0629,"y":0.28,"z":0.115},{"k":"t98.8","v":98.8,"x":0.0725,"y":0.215,"z":0.15},
{"k":"b98.8","v":98.8,"x":0.004,"y":0,"z":0},{"k":"b98.8","v":98.8,"x":0.0065,"y":-0.065,"z":0},{"k":"b98.8","v":98.8,"x":0.0128,"y":-0.185,"z":0},{"k":"b98.8","v":98.8,"x":0.0183,"y":-0.32,"z":0},{"k":"b98.8","v":98.8,"x":0.0215,"y":-0.46,"z":0},{"k":"b98.8","v":98.8,"x":0.025,"y":-0.58,"z":0},{"k":"b98.8","v":98.8,"x":0.029,"y":-0.62,"z":0},{"k":"b98.8","v":98.8,"x":0.033,"y":-0.58,"z":0},{"k":"b98.8","v":98.8,"x":0.038,"y":-0.5,"z":0},{"k":"b98.8","v":98.8,"x":0.044,"y":-0.43,"z":0},{"k":"b98.8","v":98.8,"x":0.05,"y":-0.375,"z":0},{"k":"b98.8","v":98.8,"x":0.0507,"y":-0.37,"z":0},{"k":"b98.8","v":98.8,"x":0.0553,"y":-0.335,"z":-0.07},{"k":"b98.8","v":98.8,"x":0.0603,"y":-0.295,"z":-0.105},{"k":"b98.8","v":98.8,"x":0.0694,"y":-0.235,"z":-0.15},
{"k":"t98.9","v":98.9,"x":0.0044,"y":0,"z":0},{"k":"t98.9","v":98.9,"x":0.0065,"y":0.04,"z":0},{"k":"t98.9","v":98.9,"x":0.0095,"y":0.09,"z":0},{"k":"t98.9","v":98.9,"x":0.0152,"y":0.19,"z":0},{"k":"t98.9","v":98.9,"x":0.0202,"y":0.33,"z":0},{"k":"t98.9","v":98.9,"x":0.023,"y":0.42,"z":0},{"k":"t98.9","v":98.9,"x":0.026,"y":0.52,"z":0},{"k":"t98.9","v":98.9,"x":0.029,"y":0.57,"z":0},{"k":"t98.9","v":98.9,"x":0.033,"y":0.54,"z":0},{"k":"t98.9","v":98.9,"x":0.037,"y":0.48,"z":0},{"k":"t98.9","v":98.9,"x":0.044,"y":0.41,"z":0},{"k":"t98.9","v":98.9,"x":0.05,"y":0.355,"z":0},{"k":"t98.9","v":98.9,"x":0.0533,"y":0.335,"z":0.056},{"k":"t98.9","v":98.9,"x":0.0568,"y":0.295,"z":0.08},{"k":"t98.9","v":98.9,"x":0.0629,"y":0.26,"z":0.125},{"k":"t98.9","v":98.9,"x":0.0672,"y":0.23,"z":0.15},
{"k":"b98.9","v":98.9,"x":0.0042,"y":0,"z":0},{"k":"b98.9","v":98.9,"x":0.007,"y":-0.065,"z":0},{"k":"b98.9","v":98.9,"x":0.0137,"y":-0.185,"z":0},{"k":"b98.9","v":98.9,"x":0.0195,"y":-0.32,"z":0},{"k":"b98.9","v":98.9,"x":0.0232,"y":-0.42,"z":0},{"k":"b98.9","v":98.9,"x":0.026,"y":-0.52,"z":0},{"k":"b98.9","v":98.9,"x":0.029,"y":-0.56,"z":0},{"k":"b98.9","v":98.9,"x":0.033,"y":-0.54,"z":0},{"k":"b98.9","v":98.9,"x":0.037,"y":-0.49,"z":0},{"k":"b98.9","v":98.9,"x":0.044,"y":-0.41,"z":0},{"k":"b98.9","v":98.9,"x":0.0502,"y":-0.355,"z":0},{"k":"b98.9","v":98.9,"x":0.0553,"y":-0.315,"z":-0.075},{"k":"b98.9","v":98.9,"x":0.0603,"y":-0.27,"z":-0.115},{"k":"b98.9","v":98.9,"x":0.0638,"y":-0.23,"z":-0.15},
{"k":"t99","v":99,"x":0.0048,"y":0,"z":0},{"k":"t99","v":99,"x":0.0129,"y":0.14,"z":0},{"k":"t99","v":99,"x":0.0164,"y":0.19,"z":0},{"k":"t99","v":99,"x":0.0215,"y":0.31,"z":0},{"k":"t99","v":99,"x":0.025,"y":0.43,"z":0},{"k":"t99","v":99,"x":0.027,"y":0.49,"z":0},{"k":"t99","v":99,"x":0.0283,"y":0.515,"z":0},{"k":"t99","v":99,"x":0.0295,"y":0.52,"z":0},{"k":"t99","v":99,"x":0.0315,"y":0.51,"z":0},{"k":"t99","v":99,"x":0.0367,"y":0.475,"z":0},{"k":"t99","v":99,"x":0.0412,"y":0.43,"z":0},{"k":"t99","v":99,"x":0.0491,"y":0.35,"z":0},{"k":"t99","v":99,"x":0.0492,"y":0.35,"z":0.02},{"k":"t99","v":99,"x":0.0503,"y":0.335,"z":0.044},{"k":"t99","v":99,"x":0.0533,"y":0.305,"z":0.06},{"k":"t99","v":99,"x":0.0568,"y":0.27,"z":0.086},{"k":"t99","v":99,"x":0.0583,"y":0.257,"z":0.105},{"k":"t99","v":99,"x":0.061,"y":0.225,"z":0.14},{"k":"t99","v":99,"x":0.0615,"y":0.22,"z":0.17},
{"k":"b99","v":99,"x":0.0045,"y":0,"z":0},{"k":"b99","v":99,"x":0.0171,"y":-0.2,"z":0},{"k":"b99","v":99,"x":0.0209,"y":-0.27,"z":0},{"k":"b99","v":99,"x":0.025,"y":-0.38,"z":0},{"k":"b99","v":99,"x":0.0265,"y":-0.455,"z":0},{"k":"b99","v":99,"x":0.028,"y":-0.487,"z":0},{"k":"b99","v":99,"x":0.033,"y":-0.487,"z":0},{"k":"b99","v":99,"x":0.0491,"y":-0.35,"z":0},{"k":"b99","v":99,"x":0.0492,"y":-0.35,"z":-0.02},{"k":"b99","v":99,"x":0.0503,"y":-0.335,"z":-0.05},{"k":"b99","v":99,"x":0.0533,"y":-0.3,"z":-0.065},{"k":"b99","v":99,"x":0.0564,"y":-0.263,"z":-0.08},{"k":"b99","v":99,"x":0.0583,"y":-0.235,"z":-0.1},{"k":"b99","v":99,"x":0.0598,"y":-0.2,"z":-0.13},{"k":"b99","v":99,"x":0.0601,"y":-0.19,"z":-0.133},
{"k":"t99.1","v":99.1,"x":0.0055,"y":0,"z":0},{"k":"t99.1","v":99.1,"x":0.0135,"y":0.115,"z":0},{"k":"t99.1","v":99.1,"x":0.018,"y":0.19,"z":0},{"k":"t99.1","v":99.1,"x":0.023,"y":0.3,"z":0},{"k":"t99.1","v":99.1,"x":0.0265,"y":0.4,"z":0},{"k":"t99.1","v":99.1,"x":0.03,"y":0.465,"z":0},{"k":"t99.1","v":99.1,"x":0.0335,"y":0.465,"z":0},{"k":"t99.1","v":99.1,"x":0.038,"y":0.41,"z":0},{"k":"t99.1","v":99.1,"x":0.043,"y":0.36,"z":0},{"k":"t99.1","v":99.1,"x":0.0485,"y":0.305,"z":0},{"k":"t99.1","v":99.1,"x":0.0503,"y":0.285,"z":0.05},{"k":"t99.1","v":99.1,"x":0.0533,"y":0.25,"z":0.07},{"k":"t99.1","v":99.1,"x":0.0555,"y":0.23,"z":0.11},{"k":"t99.1","v":99.1,"x":0.0578,"y":0.2,"z":0.17},
{"k":"b99.1","v":99.1,"x":0.0053,"y":0,"z":0},{"k":"b99.1","v":99.1,"x":0.0135,"y":-0.115,"z":0},{"k":"b99.1","v":99.1,"x":0.018,"y":-0.19,"z":0},{"k":"b99.1","v":99.1,"x":0.023,"y":-0.29,"z":0},{"k":"b99.1","v":99.1,"x":0.0265,"y":-0.39,"z":0},{"k":"b99.1","v":99.1,"x":0.03,"y":-0.44,"z":0},{"k":"b99.1","v":99.1,"x":0.0335,"y":-0.45,"z":0},{"k":"b99.1","v":99.1,"x":0.038,"y":-0.41,"z":0},{"k":"b99.1","v":99.1,"x":0.043,"y":-0.36,"z":0},{"k":"b99.1","v":99.1,"x":0.0485,"y":-0.3,"z":0},{"k":"b99.1","v":99.1,"x":0.0503,"y":-0.285,"z":-0.05},{"k":"b99.1","v":99.1,"x":0.0533,"y":-0.25,"z":-0.07},{"k":"b99.1","v":99.1,"x":0.0555,"y":-0.22,"z":-0.11},{"k":"b99.1","v":99.1,"x":0.0565,"y":-0.2,"z":-0.15},
{"k":"t99.2","v":99.2,"x":0.0062,"y":0,"z":0},{"k":"t99.2","v":99.2,"x":0.0135,"y":0.09,"z":0},{"k":"t99.2","v":99.2,"x":0.02,"y":0.18,"z":0},{"k":"t99.2","v":99.2,"x":0.025,"y":0.29,"z":0},{"k":"t99.2","v":99.2,"x":0.03,"y":0.38,"z":0},{"k":"t99.2","v":99.2,"x":0.034,"y":0.4,"z":0},{"k":"t99.2","v":99.2,"x":0.038,"y":0.36,"z":0},{"k":"t99.2","v":99.2,"x":0.044,"y":0.32,"z":0},{"k":"t99.2","v":99.2,"x":0.0482,"y":0.27,"z":0},{"k":"t99.2","v":99.2,"x":0.05,"y":0.25,"z":0.05},{"k":"t99.2","v":99.2,"x":0.0525,"y":0.21,"z":0.09},{"k":"t99.2","v":99.2,"x":0.0545,"y":0.18,"z":0.13},
{"k":"b99.2","v":99.2,"x":0.006,"y":0,"z":0},{"k":"b99.2","v":99.2,"x":0.0135,"y":-0.09,"z":0},{"k":"b99.2","v":99.2,"x":0.02,"y":-0.18,"z":0},{"k":"b99.2","v":99.2,"x":0.025,"y":-0.28,"z":0},{"k":"b99.2","v":99.2,"x":0.03,"y":-0.365,"z":0},{"k":"b99.2","v":99.2,"x":0.034,"y":-0.385,"z":0},{"k":"b99.2","v":99.2,"x":0.038,"y":-0.36,"z":0},{"k":"b99.2","v":99.2,"x":0.044,"y":-0.31,"z":0},{"k":"b99.2","v":99.2,"x":0.0482,"y":-0.27,"z":0},{"k":"b99.2","v":99.2,"x":0.05,"y":-0.25,"z":-0.05},{"k":"b99.2","v":99.2,"x":0.0525,"y":-0.21,"z":-0.09},{"k":"b99.2","v":99.2,"x":0.0535,"y":-0.19,"z":-0.12},
{"k":"t99.3","v":99.3,"x":0.007,"y":0,"z":0},{"k":"t99.3","v":99.3,"x":0.013,"y":0.07,"z":0},{"k":"t99.3","v":99.3,"x":0.021,"y":0.17,"z":0},{"k":"t99.3","v":99.3,"x":0.026,"y":0.26,"z":0},{"k":"t99.3","v":99.3,"x":0.03,"y":0.32,"z":0},{"k":"t99.3","v":99.3,"x":0.034,"y":0.34,"z":0},{"k":"t99.3","v":99.3,"x":0.04,"y":0.3,"z":0},{"k":"t99.3","v":99.3,"x":0.046,"y":0.26,"z":0},{"k":"t99.3","v":99.3,"x":0.0477,"y":0.23,"z":0},{"k":"t99.3","v":99.3,"x":0.0495,"y":0.21,"z":0.05},{"k":"t99.3","v":99.3,"x":0.051,"y":0.19,"z":0.09},
{"k":"b99.3","v":99.3,"x":0.0068,"y":0,"z":0},{"k":"b99.3","v":99.3,"x":0.013,"y":-0.07,"z":0},{"k":"b99.3","v":99.3,"x":0.021,"y":-0.17,"z":0},{"k":"b99.3","v":99.3,"x":0.026,"y":-0.25,"z":0},{"k":"b99.3","v":99.3,"x":0.03,"y":-0.31,"z":0},{"k":"b99.3","v":99.3,"x":0.034,"y":-0.33,"z":0},{"k":"b99.3","v":99.3,"x":0.04,"y":-0.3,"z":0},{"k":"b99.3","v":99.3,"x":0.046,"y":-0.25,"z":0},{"k":"b99.3","v":99.3,"x":0.0477,"y":-0.23,"z":0},{"k":"b99.3","v":99.3,"x":0.0495,"y":-0.21,"z":-0.05},{"k":"b99.3","v":99.3,"x":0.0505,"y":-0.19,"z":-0.09},
{"k":"t99.4","v":99.4,"x":0.008,"y":0,"z":0},{"k":"t99.4","v":99.4,"x":0.013,"y":0.055,"z":0},{"k":"t99.4","v":99.4,"x":0.02,"y":0.12,"z":0},{"k":"t99.4","v":99.4,"x":0.027,"y":0.22,"z":0},{"k":"t99.4","v":99.4,"x":0.031,"y":0.26,"z":0},{"k":"t99.4","v":99.4,"x":0.035,"y":0.27,"z":0},{"k":"t99.4","v":99.4,"x":0.04,"y":0.25,"z":0},{"k":"t99.4","v":99.4,"x":0.046,"y":0.2,"z":0},{"k":"t99.4","v":99.4,"x":0.047,"y":0.19,"z":0},{"k":"t99.4","v":99.4,"x":0.0485,"y":0.17,"z":0.05},{"k":"t99.4","v":99.4,"x":0.0495,"y":0.16,"z":0.08},
{"k":"b99.4","v":99.4,"x":0.0078,"y":0,"z":0},{"k":"b99.4","v":99.4,"x":0.013,"y":-0.055,"z":0},{"k":"b99.4","v":99.4,"x":0.02,"y":-0.12,"z":0},{"k":"b99.4","v":99.4,"x":0.027,"y":-0.21,"z":0},{"k":"b99.4","v":99.4,"x":0.031,"y":-0.25,"z":0},{"k":"b99.4","v":99.4,"x":0.035,"y":-0.26,"z":0},{"k":"b99.4","v":99.4,"x":0.04,"y":-0.25,"z":0},{"k":"b99.4","v":99.4,"x":0.046,"y":-0.2,"z":0},{"k":"b99.4","v":99.4,"x":0.047,"y":-0.19,"z":0},{"k":"b99.4","v":99.4,"x":0.0485,"y":-0.17,"z":-0.05},{"k":"b99.4","v":99.4,"x":0.0492,"y":-0.16,"z":-0.08},
{"k":"t99.5","v":99.5,"x":0.0098,"y":0,"z":0},{"k":"t99.5","v":99.5,"x":0.0121,"y":0.04,"z":0},{"k":"t99.5","v":99.5,"x":0.028,"y":0.148,"z":0},{"k":"t99.5","v":99.5,"x":0.0326,"y":0.185,"z":0},{"k":"t99.5","v":99.5,"x":0.0397,"y":0.205,"z":0},{"k":"t99.5","v":99.5,"x":0.0462,"y":0.145,"z":0},{"k":"t99.5","v":99.5,"x":0.0473,"y":0.127,"z":0.086},
{"k":"b99.5","v":99.5,"x":0.0097,"y":0,"z":0},{"k":"b99.5","v":99.5,"x":0.0117,"y":-0.04,"z":0},{"k":"b99.5","v":99.5,"x":0.028,"y":-0.143,"z":0},{"k":"b99.5","v":99.5,"x":0.0356,"y":-0.205,"z":0},{"k":"b99.5","v":99.5,"x":0.0421,"y":-0.185,"z":0},{"k":"b99.5","v":99.5,"x":0.0462,"y":-0.14,"z":0},{"k":"b99.5","v":99.5,"x":0.0473,"y":-0.127,"z":-0.08},
{"k":"t99.6","v":99.6,"x":0.0125,"y":0,"z":0},{"k":"t99.6","v":99.6,"x":0.02,"y":0.06,"z":0},{"k":"t99.6","v":99.6,"x":0.028,"y":0.115,"z":0},{"k":"t99.6","v":99.6,"x":0.033,"y":0.15,"z":0},{"k":"t99.6","v":99.6,"x":0.039,"y":0.165,"z":0},{"k":"t99.6","v":99.6,"x":0.044,"y":0.13,"z":0},{"k":"t99.6","v":99.6,"x":0.0458,"y":0.07,"z":0},
{"k":"b99.6","v":99.6,"x":0.0125,"y":0,"z":0},{"k":"b99.6","v":99.6,"x":0.02,"y":-0.06,"z":0},{"k":"b99.6","v":99.6,"x":0.028,"y":-0.115,"z":0},{"k":"b99.6","v":99.6,"x":0.035,"y":-0.16,"z":0},{"k":"b99.6","v":99.6,"x":0.04,"y":-0.16,"z":0},{"k":"b99.6","v":99.6,"x":0.044,"y":-0.13,"z":0},{"k":"b99.6","v":99.6,"x":0.0458,"y":-0.07,"z":0},
{"k":"t99.7","v":99.7,"x":0.015,"y":0,"z":0},{"k":"t99.7","v":99.7,"x":0.022,"y":0.05,"z":0},{"k":"t99.7","v":99.7,"x":0.029,"y":0.09,"z":0},{"k":"t99.7","v":99.7,"x":0.034,"y":0.115,"z":0},{"k":"t99.7","v":99.7,"x":0.04,"y":0.12,"z":0},{"k":"t99.7","v":99.7,"x":0.044,"y":0.085,"z":0},{"k":"t99.7","v":99.7,"x":0.0452,"y":0.03,"z":0},
{"k":"b99.7","v":99.7,"x":0.015,"y":0,"z":0},{"k":"b99.7","v":99.7,"x":0.022,"y":-0.05,"z":0},{"k":"b99.7","v":99.7,"x":0.029,"y":-0.09,"z":0},{"k":"b99.7","v":99.7,"x":0.034,"y":-0.115,"z":0},{"k":"b99.7","v":99.7,"x":0.04,"y":-0.12,"z":0},{"k":"b99.7","v":99.7,"x":0.044,"y":-0.085,"z":0},{"k":"b99.7","v":99.7,"x":0.0452,"y":-0.03,"z":0},
{"k":"t99.8","v":99.8,"x":0.018,"y":0,"z":0},{"k":"t99.8","v":99.8,"x":0.025,"y":0.04,"z":0},{"k":"t99.8","v":99.8,"x":0.03,"y":0.065,"z":0},{"k":"t99.8","v":99.8,"x":0.036,"y":0.08,"z":0},{"k":"t99.8","v":99.8,"x":0.04,"y":0.08,"z":0},{"k":"t99.8","v":99.8,"x":0.043,"y":0.05,"z":0},{"k":"t99.8","v":99.8,"x":0.044,"y":0.01,"z":0},
{"k":"b99.8","v":99.8,"x":0.018,"y":0,"z":0},{"k":"b99.8","v":99.8,"x":0.025,"y":-0.04,"z":0},{"k":"b99.8","v":99.8,"x":0.03,"y":-0.065,"z":0},{"k":"b99.8","v":99.8,"x":0.036,"y":-0.08,"z":0},{"k":"b99.8","v":99.8,"x":0.04,"y":-0.08,"z":0},{"k":"b99.8","v":99.8,"x":0.043,"y":-0.05,"z":0},{"k":"b99.8","v":99.8,"x":0.044,"y":-0.01,"z":0},
{"k":"t99.85","v":99.85,"x":0.022,"y":0,"z":0},{"k":"t99.85","v":99.85,"x":0.028,"y":0.03,"z":0},{"k":"t99.85","v":99.85,"x":0.035,"y":0.05,"z":0},{"k":"t99.85","v":99.85,"x":0.04,"y":0.04,"z":0},{"k":"t99.85","v":99.85,"x":0.042,"y":0.01,"z":0},
{"k":"b99.85","v":99.85,"x":0.022,"y":0,"z":0},{"k":"b99.85","v":99.85,"x":0.028,"y":-0.03,"z":0},{"k":"b99.85","v":99.85,"x":0.035,"y":-0.05,"z":0},{"k":"b99.85","v":99.85,"x":0.04,"y":-0.04,"z":0},{"k":"b99.85","v":99.85,"x":0.042,"y":-0.01,"z":0}
]},
"mark":{"type":"area","interpolate":"monotone"},
"encoding":{
"x":{"field":"x","type":"quantitative","scale":{"domain":[0,0.08],"nice":false,"zero":false},"axis":{"values":[0,0.025,0.05,0.075],"labelExpr":"''+datum.value","title":null,"grid":false,"domain":false,"ticks":false,"labelFont":"Liberation Serif","labelFontSize":20,"labelColor":"#333","labelPadding":12,"labelFlush":false}},
"y":{"field":"y","type":"quantitative","scale":{"domain":[-1.043,1.043],"nice":false,"zero":false},"axis":{"values":[-1,-0.5,0,0.5,1],"labelExpr":"''+datum.value","title":null,"grid":false,"domain":false,"ticks":false,"labelFont":"Liberation Serif","labelFontSize":20,"labelColor":"#333","labelPadding":9}},
"y2":{"field":"z"},
"detail":{"field":"k"},
"color":{"field":"v","type":"quantitative","scale":{"domain":[95,95.625,96.875,97.5,98.125,98.75,99.375,100],"range":["#000080","#0000ff","#00ffff","#80ff80","#ffff00","#ff8000","#ff0000","#800000"],"interpolate":"rgb"},"legend":{"title":null,"orient":"none","legendX":538,"legendY":0,"direction":"vertical","gradientLength":401,"gradientThickness":20,"values":[95,96,97,98,99,100],"format":"d","labelFont":"Liberation Serif","labelFontSize":22,"labelColor":"#333","labelOffset":6,"labelOverlap":false,"labelBaseline":"middle","encode":{"labels":{"update":{"baseline":{"value":"middle"}}}}}}
}},
{"data":{"values":[
{"k":"mt","x":0.0194,"y":1.002,"z":1},{"k":"mt","x":0.02,"y":1.002,"z":0.985},{"k":"mt","x":0.0224,"y":1.002,"z":0.934},{"k":"mt","x":0.025,"y":1.002,"z":0.877},{"k":"mt","x":0.0276,"y":1.002,"z":0.814},{"k":"mt","x":0.0326,"y":1.002,"z":0.726},{"k":"mt","x":0.0376,"y":1.002,"z":0.637},{"k":"mt","x":0.0427,"y":1.002,"z":0.57},{"k":"mt","x":0.0477,"y":1.002,"z":0.518},{"k":"mt","x":0.0523,"y":1.002,"z":0.477},{"k":"mt","x":0.0553,"y":1.002,"z":0.445},{"k":"mt","x":0.06,"y":1.002,"z":0.41},{"k":"mt","x":0.0655,"y":1.002,"z":0.372},{"k":"mt","x":0.07,"y":1.002,"z":0.345},{"k":"mt","x":0.075,"y":1.002,"z":0.325},{"k":"mt","x":0.08,"y":1.002,"z":0.31},
{"k":"mb","x":0.0194,"y":-1.002,"z":-1},{"k":"mb","x":0.02,"y":-1.002,"z":-0.985},{"k":"mb","x":0.0224,"y":-1.002,"z":-0.934},{"k":"mb","x":0.025,"y":-1.002,"z":-0.877},{"k":"mb","x":0.028,"y":-1.002,"z":-0.82},{"k":"mb","x":0.0326,"y":-1.002,"z":-0.73},{"k":"mb","x":0.0376,"y":-1.002,"z":-0.64},{"k":"mb","x":0.0427,"y":-1.002,"z":-0.575},{"k":"mb","x":0.0477,"y":-1.002,"z":-0.52},{"k":"mb","x":0.0523,"y":-1.002,"z":-0.48},{"k":"mb","x":0.0553,"y":-1.002,"z":-0.455},{"k":"mb","x":0.06,"y":-1.002,"z":-0.415},{"k":"mb","x":0.0655,"y":-1.002,"z":-0.372},{"k":"mb","x":0.07,"y":-1.002,"z":-0.35},{"k":"mb","x":0.075,"y":-1.002,"z":-0.33},{"k":"mb","x":0.08,"y":-1.002,"z":-0.31}
]},"mark":{"type":"area","fill":"white","interpolate":"monotone"},"encoding":{"x":{"field":"x","type":"quantitative"},"y":{"field":"y","type":"quantitative"},"y2":{"field":"z"},"detail":{"field":"k"}}},
{"data":{"values":[
{"k":"a1","x":0,"y":0.4},{"k":"a1","x":0.0015,"y":0.4},{"k":"a1","x":0.0018,"y":0.6},{"k":"a1","x":0.0021,"y":0.78},
{"k":"a2","x":0.0023,"y":0.92},{"k":"a2","x":0.0023,"y":1},
{"k":"a3","x":0,"y":-0.175},{"k":"a3","x":0.0015,"y":-0.175},{"k":"a3","x":0.0019,"y":-0.23},
{"k":"a4","x":0.0027,"y":-0.367},{"k":"a4","x":0.0033,"y":-0.6},{"k":"a4","x":0.0038,"y":-1},
{"k":"c1","x":0,"y":0.085},{"k":"c1","x":0.0015,"y":0.085},{"k":"c1","x":0.0033,"y":0.2},{"k":"c1","x":0.0043,"y":0.36},{"k":"c1","x":0.005,"y":0.5},{"k":"c1","x":0.0053,"y":0.72},
{"k":"c2","x":0.0058,"y":0.93},{"k":"c2","x":0.0058,"y":1},
{"k":"c3","x":0,"y":-0.065},{"k":"c3","x":0.0015,"y":-0.065},{"k":"c3","x":0.0029,"y":-0.13},
{"k":"c4","x":0.0045,"y":-0.24},{"k":"c4","x":0.005,"y":-0.325},{"k":"c4","x":0.0058,"y":-0.5},{"k":"c4","x":0.0068,"y":-0.8},{"k":"c4","x":0.0071,"y":-1},
{"k":"d1","x":0.0026,"y":0.01},{"k":"d1","x":0.0028,"y":0.025},
{"k":"d2","x":0.0048,"y":0.09},{"k":"d2","x":0.0079,"y":0.19},{"k":"d2","x":0.0114,"y":0.36},{"k":"d2","x":0.0129,"y":0.5},{"k":"d2","x":0.0154,"y":0.79},
{"k":"d3","x":0.0162,"y":0.93},{"k":"d3","x":0.0164,"y":1},
{"k":"d4","x":0.0023,"y":-0.02},{"k":"d4","x":0.0079,"y":-0.185},{"k":"d4","x":0.0114,"y":-0.32},{"k":"d4","x":0.0139,"y":-0.5},{"k":"d4","x":0.0156,"y":-0.65},
{"k":"d5","x":0.0164,"y":-0.8},{"k":"d5","x":0.017,"y":-1},
{"k":"e1","x":0.0553,"y":-0.04},{"k":"e1","x":0.0548,"y":-0.028},{"k":"e1","x":0.0548,"y":0.028},{"k":"e1","x":0.0564,"y":0.04},{"k":"e1","x":0.0585,"y":0.048},
{"k":"e2","x":0.0629,"y":0.055},{"k":"e2","x":0.07,"y":0.062},{"k":"e2","x":0.08,"y":0.07},
{"k":"e3","x":0.0553,"y":-0.04},{"k":"e3","x":0.0603,"y":-0.055},{"k":"e3","x":0.0732,"y":-0.071},
{"k":"e4","x":0.0775,"y":-0.075},{"k":"e4","x":0.08,"y":-0.08},
{"k":"f1","x":0.0048,"y":0.01},{"k":"f1","x":0.0129,"y":0.14},
{"k":"f2","x":0.0164,"y":0.19},{"k":"f2","x":0.0215,"y":0.31},{"k":"f2","x":0.025,"y":0.43},{"k":"f2","x":0.027,"y":0.49},{"k":"f2","x":0.0283,"y":0.515},{"k":"f2","x":0.0295,"y":0.52},{"k":"f2","x":0.0315,"y":0.51},{"k":"f2","x":0.0356,"y":0.48},
{"k":"f3","x":0.0412,"y":0.43},{"k":"f3","x":0.05,"y":0.34},{"k":"f3","x":0.0583,"y":0.257},{"k":"f3","x":0.0614,"y":0.22},{"k":"f3","x":0.0615,"y":0.17},{"k":"f3","x":0.061,"y":0.14},
{"k":"f4","x":0.0573,"y":0.09},{"k":"f4","x":0.0568,"y":0.086},{"k":"f4","x":0.0533,"y":0.06},{"k":"f4","x":0.0503,"y":0.044},{"k":"f4","x":0.0492,"y":0.02},{"k":"f4","x":0.0492,"y":-0.02},{"k":"f4","x":0.0503,"y":-0.05},{"k":"f4","x":0.0533,"y":-0.065},{"k":"f4","x":0.0564,"y":-0.08},{"k":"f4","x":0.0583,"y":-0.1},{"k":"f4","x":0.0601,"y":-0.133},{"k":"f4","x":0.0598,"y":-0.2},
{"k":"f5","x":0.0564,"y":-0.263},{"k":"f5","x":0.0497,"y":-0.34},{"k":"f5","x":0.033,"y":-0.487},
{"k":"f6","x":0.0288,"y":-0.49},{"k":"f6","x":0.028,"y":-0.487},{"k":"f6","x":0.0265,"y":-0.455},{"k":"f6","x":0.025,"y":-0.38},{"k":"f6","x":0.0209,"y":-0.27},
{"k":"f7","x":0.0171,"y":-0.2},{"k":"f7","x":0.0045,"y":-0.02},
{"k":"g1","x":0.0121,"y":0.04},{"k":"g1","x":0.028,"y":0.148},{"k":"g1","x":0.0326,"y":0.185},
{"k":"g2","x":0.0397,"y":0.205},{"k":"g2","x":0.0473,"y":0.127},{"k":"g2","x":0.0473,"y":0.086},{"k":"g2","x":0.0462,"y":0.034},{"k":"g2","x":0.0462,"y":-0.027},{"k":"g2","x":0.0473,"y":-0.08},{"k":"g2","x":0.0473,"y":-0.127},{"k":"g2","x":0.0421,"y":-0.185},
{"k":"g3","x":0.0356,"y":-0.205},{"k":"g3","x":0.028,"y":-0.143},{"k":"g3","x":0.0117,"y":-0.04}
]},"mark":{"type":"line","stroke":"#111","strokeWidth":1.1,"interpolate":"cardinal","tension":0.5},"encoding":{"x":{"field":"x","type":"quantitative"},"y":{"field":"y","type":"quantitative"},"detail":{"field":"k"},"order":{"value":null}}},
{"data":{"values":[{"k":"w","x":0,"y":0},{"k":"w","x":0.0432,"y":0}]},"mark":{"type":"line","stroke":"#ff00ff","strokeWidth":4},"encoding":{"x":{"field":"x","type":"quantitative"},"y":{"field":"y","type":"quantitative"}}},
{"data":{"values":[{"g":0.025},{"g":0.05},{"g":0.075}]},"mark":{"type":"rule","stroke":"#444","strokeWidth":1.1,"strokeDash":[9,3,2,3]},"encoding":{"x":{"field":"g","type":"quantitative"}}},
{"data":{"values":[{"g":-1},{"g":-0.5},{"g":0},{"g":0.5},{"g":1}]},"mark":{"type":"rule","stroke":"#444","strokeWidth":1.1,"strokeDash":[9,3,2,3]},"encoding":{"y":{"field":"g","type":"quantitative"}}},
{"data":{"values":[
{"k":"t","x":0,"y":1},{"k":"t","x":0.0194,"y":1},{"k":"t","x":0.02,"y":0.985},{"k":"t","x":0.0224,"y":0.934},{"k":"t","x":0.025,"y":0.877},{"k":"t","x":0.0276,"y":0.814},{"k":"t","x":0.0326,"y":0.726},{"k":"t","x":0.0376,"y":0.637},{"k":"t","x":0.0427,"y":0.57},{"k":"t","x":0.0477,"y":0.518},{"k":"t","x":0.0523,"y":0.477},{"k":"t","x":0.0553,"y":0.445},{"k":"t","x":0.06,"y":0.41},{"k":"t","x":0.0655,"y":0.372},{"k":"t","x":0.07,"y":0.345},{"k":"t","x":0.075,"y":0.325},{"k":"t","x":0.08,"y":0.31},
{"k":"b","x":0,"y":-1},{"k":"b","x":0.0194,"y":-1},{"k":"b","x":0.02,"y":-0.985},{"k":"b","x":0.0224,"y":-0.934},{"k":"b","x":0.025,"y":-0.877},{"k":"b","x":0.028,"y":-0.82},{"k":"b","x":0.0326,"y":-0.73},{"k":"b","x":0.0376,"y":-0.64},{"k":"b","x":0.0427,"y":-0.575},{"k":"b","x":0.0477,"y":-0.52},{"k":"b","x":0.0523,"y":-0.48},{"k":"b","x":0.0553,"y":-0.455},{"k":"b","x":0.06,"y":-0.415},{"k":"b","x":0.0655,"y":-0.372},{"k":"b","x":0.07,"y":-0.35},{"k":"b","x":0.075,"y":-0.33},{"k":"b","x":0.08,"y":-0.31}
]},"mark":{"type":"line","stroke":"#111","strokeWidth":2,"interpolate":"monotone"},"encoding":{"x":{"field":"x","type":"quantitative"},"y":{"field":"y","type":"quantitative"},"detail":{"field":"k"}}},
{"data":{"values":[{"t":"90","x":0.0022,"y":0.855},{"t":"95","x":0.0056,"y":0.82},{"t":"98","x":0.0156,"y":0.87},{"t":"99.5","x":0.0108,"y":0.008}]},"mark":{"type":"text","angle":275,"font":"Liberation Serif","fontSize":16,"fill":"#111"},"encoding":{"x":{"field":"x","type":"quantitative"},"y":{"field":"y","type":"quantitative"},"text":{"field":"t"}}},
{"data":{"values":[{"t":"98","x":0.0032,"y":0.05}]},"mark":{"type":"text","angle":315,"font":"Liberation Serif","fontSize":16,"fill":"#111"},"encoding":{"x":{"field":"x","type":"quantitative"},"y":{"field":"y","type":"quantitative"},"text":{"field":"t"}}},
{"data":{"values":[{"t":"99","x":0.0148,"y":0.17},{"t":"99","x":0.0592,"y":0.117},{"t":"99","x":0.058,"y":-0.237}]},"mark":{"type":"text","angle":332,"font":"Liberation Serif","fontSize":16,"fill":"#111"},"encoding":{"x":{"field":"x","type":"quantitative"},"y":{"field":"y","type":"quantitative"},"text":{"field":"t"}}},
{"data":{"values":[{"t":"99","x":0.0391,"y":0.455}]},"mark":{"type":"text","angle":15,"font":"Liberation Serif","fontSize":16,"fill":"#111"},"encoding":{"x":{"field":"x","type":"quantitative"},"y":{"field":"y","type":"quantitative"},"text":{"field":"t"}}},
{"data":{"values":[{"t":"99.5","x":0.0361,"y":0.216},{"t":"99.5","x":0.0389,"y":-0.2},{"t":"99","x":0.0309,"y":-0.492},{"t":"98","x":0.0607,"y":0.055},{"t":"98","x":0.0753,"y":-0.07}]},"mark":{"type":"text","font":"Liberation Serif","fontSize":16,"fill":"#111"},"encoding":{"x":{"field":"x","type":"quantitative"},"y":{"field":"y","type":"quantitative"},"text":{"field":"t"}}},
{"data":{"values":[{"t":"99","x":0.0192,"y":-0.232}]},"mark":{"type":"text","angle":30,"font":"Liberation Serif","fontSize":16,"fill":"#111"},"encoding":{"x":{"field":"x","type":"quantitative"},"y":{"field":"y","type":"quantitative"},"text":{"field":"t"}}},
{"data":{"values":[{"t":"95","x":0.0036,"y":-0.175}]},"mark":{"type":"text","angle":65,"font":"Liberation Serif","fontSize":16,"fill":"#111"},"encoding":{"x":{"field":"x","type":"quantitative"},"y":{"field":"y","type":"quantitative"},"text":{"field":"t"}}},
{"data":{"values":[{"t":"90","x":0.0024,"y":-0.295},{"t":"98","x":0.0164,"y":-0.725}]},"mark":{"type":"text","angle":85,"font":"Liberation Serif","fontSize":16,"fill":"#111"},"encoding":{"x":{"field":"x","type":"quantitative"},"y":{"field":"y","type":"quantitative"},"text":{"field":"t"}}},
{"data":{"values":[{"x":0.0571,"x2":0.0783,"y":0.991,"y2":0.741}]},"mark":{"type":"rect","fill":"white","stroke":"#111","strokeWidth":1},"encoding":{"x":{"field":"x","type":"quantitative"},"x2":{"field":"x2"},"y":{"field":"y","type":"quantitative"},"y2":{"field":"y2"}}},
{"data":{"values":[{"x":0.0605,"y":0.923}]},"mark":{"type":"point","shape":"M-1,0C-1,-0.55 1,-0.55 1,0C1,0.55 -1,0.55 -1,0Z","size":1444,"filled":true,"fill":"#000080","opacity":1},"encoding":{"x":{"field":"x","type":"quantitative"},"y":{"field":"y","type":"quantitative"}}},
{"data":{"values":[{"x":0.0605,"y":0.923}]},"mark":{"type":"point","shape":"M-1,0C-1,-0.55 1,-0.55 1,0C1,0.55 -1,0.55 -1,0Z","size":676,"filled":true,"fill":"#70e070","opacity":1},"encoding":{"x":{"field":"x","type":"quantitative"},"y":{"field":"y","type":"quantitative"}}},
{"data":{"values":[{"x":0.0605,"y":0.923}]},"mark":{"type":"point","shape":"M-1,0C-1,-0.55 1,-0.55 1,0C1,0.55 -1,0.55 -1,0Z","size":169,"filled":true,"fill":"#900000","opacity":1},"encoding":{"x":{"field":"x","type":"quantitative"},"y":{"field":"y","type":"quantitative"}}},
{"data":{"values":[{"k":"l","x":0.0576,"y":0.809},{"k":"l","x":0.0634,"y":0.809}]},"mark":{"type":"line","stroke":"#ff00ff","strokeWidth":4},"encoding":{"x":{"field":"x","type":"quantitative"},"y":{"field":"y","type":"quantitative"}}},
{"data":{"values":[{"x":0.0839,"x2":0.0845,"y":0.629},{"x":0.0839,"x2":0.0845,"y":0.21},{"x":0.0839,"x2":0.0845,"y":-0.205},{"x":0.0839,"x2":0.0845,"y":-0.627}]},"mark":{"type":"rule","stroke":"#222","strokeWidth":1},"encoding":{"x":{"field":"x","type":"quantitative"},"x2":{"field":"x2"},"y":{"field":"y","type":"quantitative"}}},
{"data":{"values":[{"t":"η","x":0.0639,"y":0.915},{"t":"i","x":0.0639,"y":0.8},{"t":"f","x":0.0406,"y":-1.283},{"t":"f","x":0.0455,"y":-1.283}]},"mark":{"type":"text","align":"left","font":"Liberation Serif","fontStyle":"italic","fontSize":22,"fill":"#222"},"encoding":{"x":{"field":"x","type":"quantitative"},"y":{"field":"y","type":"quantitative"},"text":{"field":"t"}}},
{"data":{"values":[{"t":"Inv,PWM","x":0.0658,"y":0.892},{"t":"dq","x":0.0648,"y":0.775},{"t":"1","x":0.0421,"y":-1.325},{"t":"sw","x":0.0467,"y":-1.325}]},"mark":{"type":"text","align":"left","font":"Liberation Serif","fontSize":13,"fill":"#222"},"encoding":{"x":{"field":"x","type":"quantitative"},"y":{"field":"y","type":"quantitative"},"text":{"field":"t"}}},
{"data":{"values":[{"t":"[%]","x":0.0741,"y":0.915},{"t":"= 0","x":0.0679,"y":0.8},{"t":"Speed","x":0.0303,"y":-1.283},{"t":"/","x":0.0435,"y":-1.283}]},"mark":{"type":"text","align":"left","font":"Liberation Serif","fontSize":23,"fill":"#222"},"encoding":{"x":{"field":"x","type":"quantitative"},"y":{"field":"y","type":"quantitative"},"text":{"field":"t"}}},
{"data":{"values":[{"t":"(a)","x":0.0394,"y":-1.491}]},"mark":{"type":"text","font":"Liberation Serif","fontSize":20,"fill":"#111"},"encoding":{"x":{"field":"x","type":"quantitative"},"y":{"field":"y","type":"quantitative"},"text":{"field":"t"}}},
{"data":{"values":[{"t":"Torque","x":-0.0089,"y":-0.408},{"t":"/","x":-0.0089,"y":0.133}]},"mark":{"type":"text","angle":270,"align":"left","font":"Liberation Serif","fontSize":24,"fill":"#222"},"encoding":{"x":{"field":"x","type":"quantitative"},"y":{"field":"y","type":"quantitative"},"text":{"field":"t"}}},
{"data":{"values":[{"t":"T","x":-0.0089,"y":0.023},{"t":"T","x":-0.0089,"y":0.18}]},"mark":{"type":"text","angle":270,"align":"left","font":"Liberation Serif","fontStyle":"italic","fontSize":24,"fill":"#222"},"encoding":{"x":{"field":"x","type":"quantitative"},"y":{"field":"y","type":"quantitative"},"text":{"field":"t"}}},
{"data":{"values":[{"t":"e","x":-0.0079,"y":0.1},{"t":"e,max","x":-0.0079,"y":0.268}]},"mark":{"type":"text","angle":270,"align":"left","font":"Liberation Serif","fontSize":14,"fill":"#222"},"encoding":{"x":{"field":"x","type":"quantitative"},"y":{"field":"y","type":"quantitative"},"text":{"field":"t"}}}
]}
